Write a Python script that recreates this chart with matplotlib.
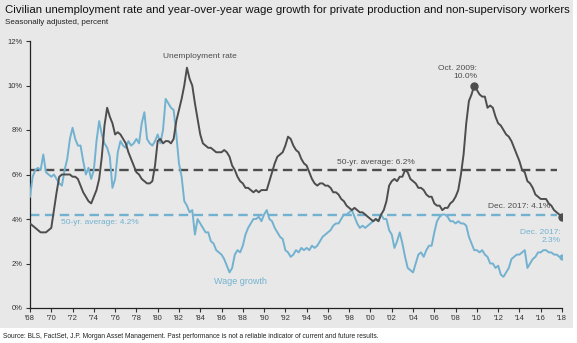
import matplotlib.pyplot as plt
import numpy as np
from matplotlib.patches import Rectangle

plt.rcParams['font.family'] = ['Liberation Sans', 'DejaVu Sans']

# Quarterly readings, 1968.0 through 2018.0 (last point = Dec. 2017)
start_year = 1968
unemployment = [
    3.8, 3.7, 3.6, 3.5,   3.4, 3.4, 3.4, 3.5,   3.6, 4.4, 5.2, 5.9,   6.0, 6.0, 6.0, 6.0,
    5.9, 5.9, 5.8, 5.5,   5.2, 5.0, 4.8, 4.7,   5.0, 5.3, 5.8, 6.8,   8.2, 9.0, 8.6, 8.3,
    7.8, 7.9, 7.8, 7.6,   7.4, 7.0, 6.7, 6.4,   6.1, 6.0, 5.8, 5.7,   5.6, 5.6, 5.7, 6.4,
    7.5, 7.6, 7.4, 7.5,   7.5, 7.4, 7.6, 8.4,   8.9, 9.4, 10.0, 10.8, 10.3, 10.0, 9.2, 8.5,
    7.8, 7.4, 7.3, 7.2,   7.2, 7.1, 7.0, 7.0,   7.0, 7.1, 7.0, 6.8,   6.4, 6.2, 5.9, 5.7,
    5.6, 5.4, 5.4, 5.3,   5.2, 5.3, 5.2, 5.3,   5.3, 5.3, 5.7, 6.1,   6.5, 6.8, 6.9, 7.0,
    7.3, 7.7, 7.6, 7.3,   7.1, 7.0, 6.7, 6.5,   6.4, 6.1, 5.8, 5.6,   5.5, 5.6, 5.6, 5.5,
    5.5, 5.4, 5.2, 5.2,   5.1, 4.9, 4.8, 4.6,   4.5, 4.4, 4.5, 4.4,   4.3, 4.3, 4.2, 4.1,
    4.0, 3.9, 4.0, 3.9,   4.2, 4.4, 4.8, 5.5,   5.7, 5.8, 5.7, 5.9,   5.9, 6.2, 6.1, 5.8,
    5.7, 5.6, 5.4, 5.4,   5.3, 5.1, 5.0, 5.0,   4.7, 4.6, 4.6, 4.4,   4.5, 4.5, 4.7, 4.8,
    5.0, 5.3, 6.0, 6.9,   8.3, 9.3, 9.6, 10.0,  9.8, 9.6, 9.5, 9.5,   9.0, 9.1, 9.0, 8.6,
    8.3, 8.2, 8.0, 7.8,   7.7, 7.5, 7.2, 6.9,   6.6, 6.2, 6.1, 5.7,   5.6, 5.4, 5.1, 5.0,
    4.9, 4.9, 4.9, 4.7,   4.6, 4.4, 4.3, 4.2,   4.1,
]
wage_growth = [
    5.0, 5.9, 6.2, 6.3,   6.2, 6.9, 6.1, 6.0,   5.9, 6.0, 5.8, 5.6,   5.5, 6.2, 6.7, 7.6,
    8.1, 7.6, 7.3, 7.3,   6.6, 6.0, 6.3, 5.8,   6.2, 7.5, 8.4, 7.8,   7.4, 7.2, 6.8, 5.4,
    5.8, 7.0, 7.5, 7.3,   7.2, 7.5, 7.3, 7.4,   7.6, 7.4, 8.3, 8.8,   7.6, 7.4, 7.3, 7.5,
    7.8, 7.4, 8.0, 9.4,   9.2, 9.0, 8.9, 7.8,   6.5, 5.9, 4.8, 4.6,   4.3, 4.4, 3.3, 4.0,
    3.8, 3.6, 3.4, 3.4,   3.0, 2.9, 2.6, 2.5,   2.4, 2.2, 1.9, 1.6,   1.8, 2.4, 2.6, 2.5,
    2.8, 3.3, 3.6, 3.8,   4.0, 4.0, 4.1, 3.9,   4.2, 4.4, 4.0, 3.9,   3.6, 3.4, 3.2, 3.1,
    2.6, 2.5, 2.3, 2.4,   2.6, 2.5, 2.7, 2.6,   2.7, 2.6, 2.8, 2.7,   2.8, 3.0, 3.2, 3.3,
    3.4, 3.5, 3.7, 3.8,   3.8, 4.0, 4.2, 4.2,   4.3, 4.4, 4.1, 3.8,   3.6, 3.7, 3.6, 3.7,
    3.8, 3.9, 4.0, 3.9,   4.2, 4.0, 4.0, 3.5,   3.3, 2.7, 3.0, 3.4,   2.9, 2.3, 1.8, 1.7,
    1.6, 2.0, 2.4, 2.5,   2.3, 2.6, 2.8, 2.8,   3.4, 3.9, 4.1, 4.2,   4.2, 4.1, 3.9, 3.9,
    3.8, 3.9, 3.8, 3.8,   3.7, 3.2, 2.9, 2.6,   2.6, 2.5, 2.6, 2.4,   2.3, 2.0, 2.0, 1.8,
    1.9, 1.5, 1.4, 1.6,   1.8, 2.2, 2.3, 2.4,   2.4, 2.5, 2.6, 1.8,   2.0, 2.2, 2.3, 2.5,
    2.5, 2.6, 2.6, 2.5,   2.5, 2.4, 2.4, 2.3,   2.3,
]
unemp_avg = 6.2
wage_avg = 4.2
peak_year, peak_value = 2009.75, 10.0
xtick_years = list(range(1968, 2019, 2))
xtick_labels = ["'%02d" % (y % 100) for y in xtick_years]
ytick_values = [0, 2, 4, 6, 8, 10, 12]
ytick_labels = ['%d%%' % v for v in ytick_values]

GREY = '#4d4d4d'
BLUE = '#72b2d0'

years = start_year + np.arange(len(unemployment)) / 4.0

fig = plt.figure(figsize=(5.77, 3.43), dpi=100)
# light grey panel behind title + chart, white footer strip
fig.patches.append(Rectangle((0, 1 - 328 / 343), 573 / 577, 328 / 343,
                             transform=fig.transFigure, facecolor='#e8e8e8',
                             edgecolor='none', zorder=-5))

ax = fig.add_axes([30 / 577, 1 - 308 / 343, 532 / 577, 267 / 343])
ax.set_facecolor('none')
ax.set_zorder(2)

ax.axhline(unemp_avg, xmin=0, xmax=0.99, color=GREY, lw=1.7, dashes=(4, 2.3), zorder=2)
ax.axhline(wage_avg, xmin=0, xmax=0.99, color=BLUE, lw=1.7, dashes=(4, 2.3), zorder=2)
ax.plot(years, wage_growth, color=BLUE, lw=1.4, zorder=3)
ax.plot(years, unemployment, color=GREY, lw=1.4, zorder=4)
ax.plot([peak_year], [peak_value], 'o', color=GREY, ms=5, zorder=5)
ax.plot([years[-1]], [unemployment[-1]], 'o', color=GREY, ms=5, zorder=5)
ax.plot([years[-1]], [wage_growth[-1]], 'o', color=BLUE, ms=3.5, zorder=5)

ax.set_xlim(1968, 2018)
ax.set_ylim(0, 12)
ax.set_xticks(xtick_years)
ax.set_xticklabels(xtick_labels)
ax.set_yticks(ytick_values)
ax.set_yticklabels(ytick_labels)
ax.tick_params(labelsize=5.5, colors='#333333', length=3, width=0.8, pad=2)
for side in ('top', 'right'):
    ax.spines[side].set_visible(False)
for side in ('left', 'bottom'):
    ax.spines[side].set_color('#222222')
    ax.spines[side].set_linewidth(0.9)

# annotations
ax.text(1984.0, 11.3, 'Unemployment rate', color=GREY, fontsize=6, ha='center', va='center')
ax.text(1985.3, 1.2, 'Wage growth', color=BLUE, fontsize=6.5, ha='left', va='center')
ax.text(2000.5, 6.55, '50-yr. average: 6.2%', color=GREY, fontsize=6, ha='center', va='center')
ax.text(1974.6, 3.85, '50-yr. average: 4.2%', color=BLUE, fontsize=6, ha='center', va='center')
ax.text(2010.0, 10.25, 'Oct. 2009:\n10.0%', color=GREY, fontsize=6, ha='right', va='bottom',
        linespacing=1.15)
ax.text(2014.0, 4.55, 'Dec. 2017: 4.1%', color=GREY, fontsize=6, ha='center', va='center')
ax.text(2017.9, 3.2, 'Dec. 2017:\n2.3%', color=BLUE, fontsize=6, ha='right', va='center',
        linespacing=1.15)

fig.text(5 / 577, 1 - 10 / 343, 'Civilian unemployment rate and year-over-year wage growth for '
         'private production and non-supervisory workers',
         fontsize=8.2, color='#111111', ha='left', va='center')
fig.text(5 / 577, 1 - 23 / 343, 'Seasonally adjusted, percent', fontsize=5.8,
         color='#222222', ha='left', va='center')
fig.text(3 / 577, 1 - 337 / 343, 'Source: BLS, FactSet, J.P. Morgan Asset Management. Past '
         'performance is not a reliable indicator of current and future results.',
         fontsize=4.8, color='#222222', ha='left', va='center')

fig.savefig('out.png', dpi=100)
